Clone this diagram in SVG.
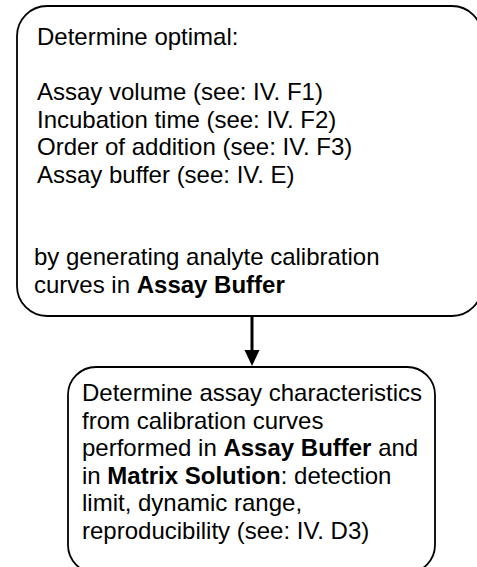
<svg xmlns="http://www.w3.org/2000/svg" width="477" height="567" viewBox="0 0 477 567">
<style>
  .box { fill: #ffffff; stroke: #000000; stroke-width: 1.8; }
  .t { font-family: "Liberation Sans", Arial, sans-serif; font-size: 24px; fill: #000000; }
  .b { font-weight: bold; }
  .conn { stroke: #000000; stroke-width: 3; fill: none; }
</style>
<defs>
  <marker id="arrow" markerUnits="userSpaceOnUse" markerWidth="16" markerHeight="16" refX="8" refY="16" viewBox="0 0 16 16" orient="auto-start-reverse">
    <path d="M0,0 L16,0 L8,16 Z" fill="#000000" transform="rotate(-90 8 8)"/>
  </marker>
</defs>
<rect width="477" height="567" fill="#ffffff"/>
<g id="node-optimize">
  <rect class="box" x="17" y="6" width="465" height="310" rx="30" ry="30"/>
  <text class="t" x="37" y="45">Determine optimal:</text>
  <text class="t" x="37" y="100">Assay volume (see: IV. F1)</text>
  <text class="t" x="37" y="127.6">Incubation time (see: IV. F2)</text>
  <text class="t" x="37" y="155.2">Order of addition (see: IV. F3)</text>
  <text class="t" x="37" y="182.8">Assay buffer (see: IV. E)</text>
  <text class="t" x="34" y="265">by generating analyte calibration</text>
  <text class="t" x="34" y="292.6">curves in <tspan class="b">Assay Buffer</tspan></text>
</g>
<g id="node-characteristics">
  <rect class="box" x="68" y="367" width="367" height="206" rx="28" ry="28"/>
  <text class="t" x="82" y="401">Determine assay characteristics</text>
  <text class="t" x="82" y="428.6">from calibration curves</text>
  <text class="t" x="82" y="456.2">performed in <tspan class="b">Assay Buffer</tspan> and</text>
  <text class="t" x="82" y="483.8">in <tspan class="b">Matrix Solution</tspan>: detection</text>
  <text class="t" x="82" y="511.4">limit, dynamic range,</text>
  <text class="t" x="82" y="539">reproducibility (see: IV. D3)</text>
</g>
<g id="connectors">
  <line class="conn" x1="252" y1="316" x2="252" y2="352"/>
  <polygon points="244.5,350 259.5,350 252,366" fill="#000000"/>
</g>
</svg>
